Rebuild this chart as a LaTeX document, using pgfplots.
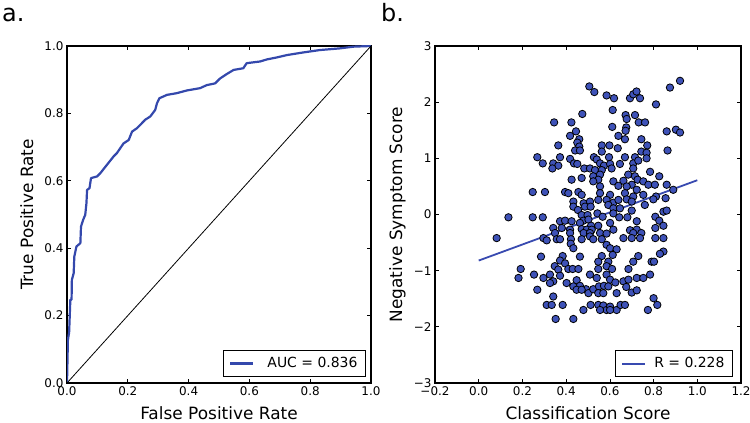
\documentclass[border=0pt]{standalone}
\usepackage{fontspec}
\setmainfont{DejaVu Sans}
\usepackage{pgfplots}
\pgfplotsset{compat=1.18}
\definecolor{roc}{RGB}{52,72,172}
\definecolor{dotfill}{RGB}{62,82,184}
\definecolor{reg}{RGB}{56,74,176}
\pgfplotsset{
  myax/.style={
    scale only axis,
    anchor=south west,
    tick align=inside,
    major tick length=4bp,
    axis line style={line width=1.1bp},
    tick style={line width=0.7bp, black},
    ticklabel style={font=\fontsize{12}{14}\selectfont},
    label style={font=\fontsize{17}{20}\selectfont},
    xlabel style={at={(axis description cs:0.5,0)}, anchor=base, yshift=-36bp},
    ylabel style={at={(axis description cs:0,0.5)}, rotate=0, anchor=base, yshift=34bp},
    legend style={font=\fontsize{14}{16}\selectfont, draw=black, line width=1.1bp,
      at={(1,0)}, anchor=south east, inner xsep=6bp, inner ysep=5bp,
      nodes={inner sep=2bp}},
    legend cell align=left,
  }
}
\begin{document}
\begin{tikzpicture}
\path[use as bounding box] (0,0) rectangle (750bp,423bp);
\node[anchor=base west, font=\fontsize{24}{28}\selectfont, inner sep=0pt] at (2bp,401bp) {a.};
\node[anchor=base west, font=\fontsize{24}{28}\selectfont, inner sep=0pt] at (381bp,401bp) {b.};
\begin{axis}[myax,
  at={(67bp,40bp)}, width=304bp, height=337bp,
  xmin=0, xmax=1, ymin=0, ymax=1,
  xtick={0,0.2,0.4,0.6,0.8,1}, xticklabels={0.0,0.2,0.4,0.6,0.8,1.0},
  ytick={0,0.2,0.4,0.6,0.8,1}, yticklabels={0.0,0.2,0.4,0.6,0.8,1.0},
  xlabel={False Positive Rate}, ylabel={True Positive Rate},
  legend style={xshift=-5bp, yshift=6bp},
  legend image code/.code={\draw[#1] (0bp,0bp) -- (23bp,0bp); \path (34bp,0bp);},
]
\addplot[roc, line width=2.2bp, line join=round] coordinates {
(0,0) (0.003,0.128) (0.007,0.150) (0.011,0.247) (0.015,0.247) (0.016,0.306)
(0.022,0.326) (0.024,0.375) (0.031,0.405) (0.044,0.415) (0.046,0.464)
(0.053,0.484) (0.060,0.499) (0.064,0.534) (0.066,0.573) (0.074,0.578)
(0.079,0.608) (0.099,0.613) (0.110,0.623) (0.131,0.647) (0.153,0.672)
(0.164,0.682) (0.186,0.711) (0.203,0.721) (0.214,0.746) (0.230,0.756)
(0.241,0.766) (0.257,0.781) (0.274,0.791) (0.290,0.810) (0.296,0.830)
(0.304,0.845) (0.329,0.855) (0.361,0.860) (0.394,0.868) (0.438,0.875)
(0.460,0.884) (0.487,0.889) (0.504,0.904) (0.526,0.917) (0.548,0.929)
(0.580,0.934) (0.591,0.949) (0.635,0.954) (0.657,0.960) (0.690,0.966)
(0.723,0.973) (0.778,0.981) (0.832,0.988) (0.898,0.993) (0.942,0.998) (1,1)
};
\addlegendentry{AUC = 0.836}
\addplot[black, line width=0.8bp, forget plot] coordinates {(0,0) (1,1)};
\end{axis}
\begin{axis}[myax,
  at={(435bp,40bp)}, width=306bp, height=337bp,
  xmin=-0.2, xmax=1.2, ymin=-3, ymax=3,
  xtick={-0.2,0,0.2,0.4,0.6,0.8,1,1.2},
  xticklabels={−0.2,0.0,0.2,0.4,0.6,0.8,1.0,1.2},
  ytick={-3,-2,-1,0,1,2,3}, yticklabels={−3,−2,−1,0,1,2,3},
  xlabel={Classification Score}, ylabel={Negative Symptom Score},
  ylabel style={yshift=-1bp},
  legend style={xshift=-8bp, yshift=6bp},
  legend image code/.code={\draw[#1, line width=2bp] (0bp,0bp) -- (23bp,0bp); \path (29bp,0bp);},
]
\addplot[only marks, mark=*, mark size=3.7bp, forget plot,
  mark options={fill=dotfill, draw=black, line width=0.8bp}] coordinates {
(0.506,2.28) (0.529,2.18) (0.921,2.38) (0.875,2.26) (0.585,2.12) (0.619,2.07)
(0.692,2.07) (0.707,2.14) (0.722,2.19) (0.738,2.07) (0.811,1.96) (0.613,1.86)
(0.474,1.79) (0.672,1.77) (0.715,1.77) (0.677,1.70) (0.345,1.64) (0.424,1.64)
(0.732,1.64) (0.761,1.64) (0.611,1.56) (0.675,1.55) (0.672,1.49) (0.445,1.48)
(0.860,1.48) (0.902,1.51) (0.921,1.46) (0.418,1.40) (0.639,1.40) (0.460,1.34)
(0.451,1.28) (0.669,1.34) (0.744,1.34) (0.364,1.23) (0.563,1.23) (0.598,1.23)
(0.771,1.23) (0.460,1.21) (0.441,1.14) (0.463,1.14) (0.636,1.18) (0.563,1.12)
(0.744,1.12) (0.768,1.10) (0.864,1.14) (0.268,1.02) (0.372,1.02) (0.418,0.99)
(0.527,1.02) (0.540,0.98) (0.596,1.02) (0.669,1.02) (0.715,1.02) (0.768,1.00)
(0.293,0.91) (0.341,0.91) (0.364,0.87) (0.436,0.91) (0.451,0.90) (0.555,0.91)
(0.573,0.87) (0.601,0.90) (0.646,0.90) (0.707,0.91) (0.730,0.96) (0.337,0.82)
(0.483,0.82) (0.509,0.82) (0.532,0.79) (0.563,0.79) (0.608,0.82) (0.707,0.82)
(0.784,0.76) (0.425,0.62) (0.471,0.65) (0.524,0.68) (0.555,0.71) (0.547,0.62)
(0.684,0.71) (0.715,0.68) (0.826,0.68) (0.524,0.59) (0.616,0.59) (0.662,0.60)
(0.700,0.53) (0.727,0.62) (0.753,0.59) (0.776,0.53) (0.806,0.53) (0.860,0.53)
(0.555,0.50) (0.639,0.51) (0.677,0.50) (0.723,0.44) (0.890,0.44) (0.395,0.40)
(0.247,0.40) (0.303,0.40) (0.410,0.38) (0.456,0.40) (0.471,0.35) (0.555,0.38)
(0.601,0.35) (0.669,0.38) (0.707,0.32) (0.753,0.35) (0.811,0.32) (0.855,0.29)
(0.433,0.23) (0.480,0.20) (0.509,0.23) (0.547,0.26) (0.585,0.26) (0.616,0.21)
(0.639,0.26) (0.677,0.27) (0.700,0.23) (0.760,0.17) (0.799,0.27) (0.433,0.14)
(0.454,0.08) (0.486,0.14) (0.512,0.14) (0.593,0.17) (0.616,0.11) (0.646,0.11)
(0.700,0.07) (0.845,0.05) (0.860,0.07) (0.136,-0.05) (0.247,-0.05) (0.293,-0.05)
(0.471,-0.01) (0.498,-0.01) (0.543,0.02) (0.567,-0.04) (0.616,0.02) (0.643,-0.05)
(0.680,-0.05) (0.808,-0.04) (0.372,-0.12) (0.395,-0.11) (0.425,-0.12) (0.479,-0.11)
(0.502,-0.09) (0.463,-0.15) (0.514,-0.20) (0.547,-0.20) (0.601,-0.15) (0.723,-0.12)
(0.826,-0.11) (0.341,-0.24) (0.380,-0.24) (0.418,-0.27) (0.471,-0.26) (0.494,-0.27)
(0.517,-0.27) (0.616,-0.27) (0.692,-0.28) (0.723,-0.27) (0.808,-0.24) (0.845,-0.20)
(0.349,-0.33) (0.418,-0.33) (0.480,-0.33) (0.509,-0.33) (0.555,-0.33) (0.585,-0.34)
(0.707,-0.33) (0.744,-0.33) (0.082,-0.42) (0.296,-0.42) (0.311,-0.46) (0.357,-0.44)
(0.372,-0.44) (0.422,-0.44) (0.471,-0.44) (0.509,-0.39) (0.524,-0.44) (0.563,-0.44)
(0.662,-0.42) (0.700,-0.42) (0.738,-0.42) (0.808,-0.42) (0.845,-0.42) (0.421,-0.52)
(0.433,-0.60) (0.585,-0.54) (0.601,-0.60) (0.631,-0.62) (0.845,-0.66) (0.829,-0.70)
(0.285,-0.75) (0.463,-0.75) (0.384,-0.74) (0.563,-0.74) (0.613,-0.72) (0.730,-0.74)
(0.372,-0.82) (0.395,-0.87) (0.547,-0.84) (0.593,-0.84) (0.707,-0.84) (0.791,-0.84)
(0.802,-0.84) (0.348,-0.92) (0.364,-0.98) (0.410,-0.97) (0.430,-0.97) (0.456,-0.97)
(0.547,-0.97) (0.585,-0.92) (0.610,-0.97) (0.685,-0.97) (0.192,-0.97) (0.182,-1.13)
(0.253,-1.07) (0.296,-1.13) (0.326,-1.07) (0.341,-1.19) (0.372,-1.09) (0.448,-1.17)
(0.463,-1.27) (0.509,-1.07) (0.540,-1.13) (0.585,-1.07) (0.601,-1.16) (0.625,-1.21)
(0.662,-1.19) (0.685,-1.16) (0.723,-1.13) (0.753,-1.13) (0.784,-1.07) (0.326,-1.22)
(0.268,-1.34) (0.402,-1.22) (0.433,-1.28) (0.448,-1.34) (0.491,-1.33) (0.502,-1.40)
(0.524,-1.33) (0.550,-1.28) (0.573,-1.27) (0.593,-1.28) (0.547,-1.40) (0.570,-1.40)
(0.631,-1.40) (0.675,-1.29) (0.700,-1.39) (0.723,-1.35) (0.341,-1.46) (0.471,-1.34)
(0.311,-1.61) (0.334,-1.61) (0.384,-1.61) (0.479,-1.70) (0.512,-1.61) (0.547,-1.61)
(0.570,-1.62) (0.585,-1.70) (0.601,-1.64) (0.631,-1.70) (0.649,-1.61) (0.669,-1.61)
(0.774,-1.70) (0.817,-1.61) (0.800,-1.49) (0.352,-1.86) (0.433,-1.86) (0.555,-1.70)
(0.601,-1.70)
};
\addplot[reg, line width=1.8bp] coordinates {(0,-0.82) (1,0.61)};
\addlegendentry{R = 0.228}
\end{axis}
\end{tikzpicture}
\end{document}
